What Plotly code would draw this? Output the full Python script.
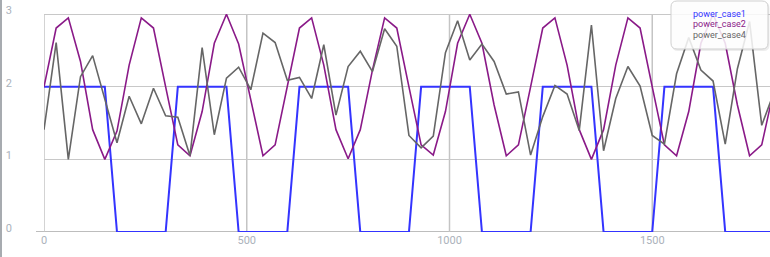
import plotly.graph_objects as go

# ---------------- data ----------------
x_vals = [0, 30, 60, 90, 120, 150, 180, 210, 240, 270,
          300, 330, 360, 390, 420, 450, 480, 510, 540, 570,
          600, 630, 660, 690, 720, 750, 780, 810, 840, 870,
          900, 930, 960, 990, 1020, 1050, 1080, 1110, 1140, 1170,
          1200, 1230, 1260, 1290, 1320, 1350, 1380, 1410, 1440, 1470,
          1500, 1530, 1560, 1590, 1620, 1650, 1680, 1710, 1740, 1770, 1800]

power_case1 = [2, 2, 2, 2, 2, 2, 0, 0, 0, 0,
               0, 2, 2, 2, 2, 2, 0, 0, 0, 0,
               0, 2, 2, 2, 2, 2, 0, 0, 0, 0,
               0, 2, 2, 2, 2, 2, 0, 0, 0, 0,
               0, 2, 2, 2, 2, 2, 0, 0, 0, 0,
               0, 2, 2, 2, 2, 2, 0, 0, 0, 0, 0]

power_case2 = [2.0, 2.81, 2.95, 2.35, 1.41, 1.0, 1.39, 2.30, 2.95, 2.81,
               2.0, 1.20, 1.05, 1.66, 2.60, 3.0, 2.59, 1.80, 1.05, 1.20,
               2.0, 2.81, 2.95, 2.30, 1.41, 1.01, 1.41, 2.23, 2.95, 2.81,
               2.0, 1.20, 1.06, 1.66, 2.60, 3.0, 2.60, 1.75, 1.05, 1.20,
               2.0, 2.81, 2.95, 2.30, 1.41, 1.0, 1.41, 2.30, 2.95, 2.81,
               2.0, 1.20, 1.05, 1.66, 2.60, 3.0, 2.60, 1.75, 1.05, 1.20, 1.96]

power_case4 = [1.41, 2.61, 1.00, 2.14, 2.43, 1.82, 1.23, 1.87, 1.49, 1.98,
               1.60, 1.58, 1.05, 2.54, 1.34, 2.12, 2.27, 1.96, 2.74, 2.61,
               2.09, 2.13, 1.84, 2.58, 1.61, 2.28, 2.49, 2.21, 2.80, 2.56,
               1.33, 1.16, 1.32, 2.47, 2.91, 2.37, 2.59, 2.35, 1.90, 1.93,
               1.06, 1.59, 2.02, 1.90, 1.40, 2.85, 1.12, 1.84, 2.28, 2.01,
               1.33, 1.21, 2.18, 2.68, 2.23, 2.08, 1.21, 2.25, 2.90, 1.47, 1.92]

series_names = ["power_case1", "power_case2", "power_case4"]
series_colors = ["#3434ff", "#8a1a88", "#666666"]
x_ticks = [0, 500, 1000, 1500]
y_ticks = [0, 1, 2, 3]

# ---------------- layout geometry ----------------
W, H = 770, 257
ML, MR, MT, MB = 44, 0, 7, 25
PW, PH = W - ML - MR, H - MT - MB
X_MAX = 1790.4
Y_MAX = 3.1


def px_x(p):
    return (p - ML) / PW


def px_y(p):
    return (H - MB - p) / PH


fig = go.Figure()
for name, ys, col, w in zip(series_names, [power_case1, power_case2, power_case4],
                            series_colors, [2, 1.6, 1.6]):
    fig.add_trace(go.Scatter(x=x_vals, y=ys, mode="lines", name=name,
                             line=dict(color=col, width=w), showlegend=False))

shapes = []
# vertical grid lines (from 0 to top gridline only)
for xv in x_ticks:
    shapes.append(dict(type="line", xref="x", yref="y", x0=xv, x1=xv, y0=0, y1=max(y_ticks),
                       line=dict(color="#c4c4c4", width=1.5), layer="below"))
# baseline extending slightly left
shapes.append(dict(type="line", xref="paper", yref="y", x0=px_x(36), x1=1, y0=0, y1=0,
                   line=dict(color="#bdbdbd", width=2), layer="below"))
# left container border
shapes.append(dict(type="line", xref="paper", yref="paper", x0=px_x(1), x1=px_x(1),
                   y0=px_y(H), y1=px_y(0), line=dict(color="#8a8f96", width=1.5)))

# legend box (rounded)
bx0, bx1, by0, by1, r = 671, 768, 1, 49, 6


def rounded(x0, x1, y0, y1, r):
    X = lambda p: px_x(p)
    Y = lambda p: px_y(p)
    return (f"M {X(x0 + r)} {Y(y0)} L {X(x1 - r)} {Y(y0)} Q {X(x1)} {Y(y0)} {X(x1)} {Y(y0 + r)} "
            f"L {X(x1)} {Y(y1 - r)} Q {X(x1)} {Y(y1)} {X(x1 - r)} {Y(y1)} "
            f"L {X(x0 + r)} {Y(y1)} Q {X(x0)} {Y(y1)} {X(x0)} {Y(y1 - r)} "
            f"L {X(x0)} {Y(y0 + r)} Q {X(x0)} {Y(y0)} {X(x0 + r)} {Y(y0)} Z")


shapes.append(dict(type="path", xref="paper", yref="paper", path=rounded(bx0 + 1, bx1 + 1.5, by0 + 1, by1 + 2, r),
                   fillcolor="rgba(0,0,0,0.07)", line=dict(width=0)))
shapes.append(dict(type="path", xref="paper", yref="paper", path=rounded(bx0, bx1, by0, by1, r),
                   fillcolor="rgba(255,255,255,0.85)", line=dict(color="#cfcfcf", width=1)))

annotations = []
for k, (name, col) in enumerate(zip(series_names, series_colors)):
    annotations.append(dict(xref="paper", yref="paper", x=px_x(719), y=px_y(14.5 + k * 10),
                            text=name, showarrow=False, xanchor="center", yanchor="middle",
                            font=dict(family="Roboto", size=9, color=col)))

fig.update_layout(
    width=W, height=H,
    margin=dict(l=ML, r=MR, t=MT, b=MB),
    paper_bgcolor="white", plot_bgcolor="white",
    shapes=shapes, annotations=annotations,
    showlegend=False,
    xaxis=dict(range=[0, X_MAX], tickvals=x_ticks, ticktext=[str(v) for v in x_ticks],
               showgrid=False, zeroline=False, showline=False, ticks="",
               tickfont=dict(family="Roboto", size=11, color="#abb2bb")),
    yaxis=dict(range=[0, Y_MAX], tickvals=y_ticks, ticktext=[str(v) for v in y_ticks],
               showgrid=True, gridcolor="#c8c8c8", gridwidth=1.2, zeroline=False, showline=False,
               ticks="", ticklabelstandoff=31, ticklabelshift=-4,
               tickfont=dict(family="Roboto", size=11, color="#abb2bb")),
)

fig.write_html("out.html")
